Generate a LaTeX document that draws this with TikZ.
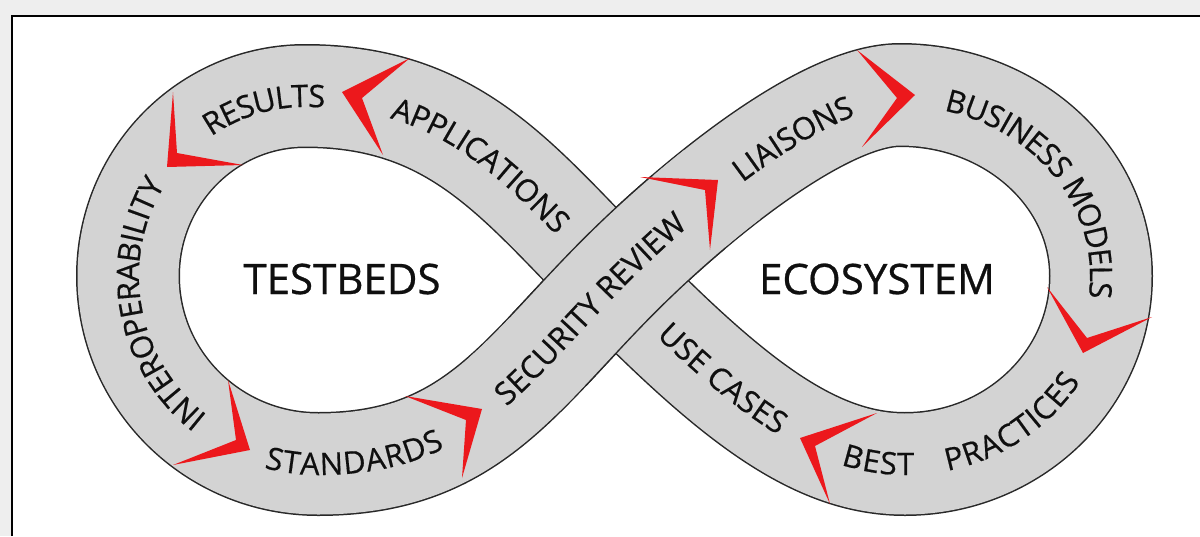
\documentclass[tikz,border=0pt]{standalone}
\usepackage{fontspec}
\setmainfont{Open Sans}
\newfontfamily\bandfamily{Open Sans}[FakeBold=0.5]
\newfontfamily\hubfamily{Open Sans}[FakeBold=0.7]
\usetikzlibrary{decorations.text}
\definecolor{bandgray}{RGB}{211,211,211}
\definecolor{edgegray}{RGB}{40,40,40}
\definecolor{chevred}{RGB}{236,24,28}
\definecolor{outergray}{RGB}{238,238,238}
\definecolor{inkblack}{RGB}{15,15,15}
\newcommand\bandfont{\bandfamily\fontsize{31}{36}\selectfont}
\newcommand\hubfont{\hubfamily\fontsize{42}{50}\selectfont}
\begin{document}
\begin{tikzpicture}[x=1pt,y=-1pt,
  bandedge/.style={draw=edgegray,line width=104pt,line join=round},
  bandfill/.style={draw=bandgray,line width=101pt,line join=round},
  chevron/.style={fill=chevred,draw=none},
  lbl/.style={decorate,decoration={text along path,raise=-11pt,text color=inkblack}},
  hub/.style={font=\hubfont,text=inkblack,inner sep=0pt},
]
\useasboundingbox (0,0) rectangle (1200,536);
\fill[outergray] (0,0) rectangle (1200,536);
\fill[white] (12,16) rectangle (1200,536);
\draw[black,line width=2.5pt] (12,536) -- (12,16) -- (1200,16);

% key points of the centre line
\coordinate (P0) at (615,280);
\coordinate (P4) at (305,96);
\coordinate (P5) at (128,276);
\coordinate (P6) at (318,464);
\coordinate (P1) at (900,95);
\coordinate (P2) at (1101,276);
\coordinate (P3) at (905,464);

% whole band
\path[bandfill,preaction={bandedge}]
  (P0) .. controls (517,181) and (455,96) .. (P4)
       .. controls (207,96) and (128,177) .. (P5)
       .. controls (128,380) and (213,464) .. (P6)
       .. controls (468,464) and (517,379) .. (P0)
       .. controls (685,209) and (820,95) .. (P1)
       .. controls (1011,95) and (1101,176) .. (P2)
       .. controls (1101,380) and (1013,464) .. (P3)
       .. controls (815,464) and (734,401) .. (P0) -- cycle;
% over-crossing part: edges in a small window, grey in a larger one
\begin{scope}
  \clip (510,175) rectangle (725,385);
  \path[bandedge]
    (P6) .. controls (468,464) and (517,379) .. (P0)
         .. controls (685,209) and (820,95) .. (P1);
\end{scope}
\begin{scope}
  \clip (470,150) rectangle (760,410);
  \path[bandfill]
    (P6) .. controls (468,464) and (517,379) .. (P0)
         .. controls (685,209) and (820,95) .. (P1);
\end{scope}

% chevrons
\fill[chevron] (410,58) -- (342,92) -- (383,155) -- (362,98) -- cycle;
\fill[chevron] (173,92) -- (167,167) -- (243,165) -- (177,153) -- cycle;
\fill[chevron] (228,380) -- (250,450) -- (173,465) -- (236,440) -- cycle;
\fill[chevron] (405,396) -- (482,409) -- (462,478) -- (466,420) -- cycle;
\fill[chevron] (640,177) -- (718,180) -- (710,250) -- (705,190) -- cycle;
\fill[chevron] (857,50) -- (915,95) -- (862,147) -- (897,98) -- cycle;
\fill[chevron] (1047,287) -- (1083,353) -- (1152,317) -- (1087,338) -- cycle;
\fill[chevron] (877,413) -- (800,438) -- (830,504) -- (815,446) -- cycle;

% band labels
\path[lbl,decoration={text={|\bandfont|RESULTS},text align={center,right indent=179pt}}]
  (P5) .. controls (128,177) and (207,96) .. (P4) .. controls (455,96) and (517,181) .. (P0);
\path[lbl,decoration={text={|\bandfont|APPLICATIONS},text align={center,left indent=16pt}}]
  (P4) .. controls (455,96) and (517,181) .. (P0);
\path[lbl,decoration={text={|\bandfont|INTEROPERABILITY},text align={center,right indent=52pt}}]
  (P6) .. controls (213,464) and (128,380) .. (P5) .. controls (128,177) and (207,96) .. (P4);
\path[lbl,decoration={text={|\bandfont|STANDARDS},text align={center,left indent=8pt}}]
  (P5) .. controls (128,380) and (213,464) .. (P6) .. controls (468,464) and (517,379) .. (P0);
\path[lbl,decoration={text={|\bandfont|SECURITY REVIEW},text align={center,right indent=58pt}}]
  (P6) .. controls (468,464) and (517,379) .. (P0) .. controls (685,209) and (820,95) .. (P1);
\path[lbl,decoration={text={|\bandfont|LIAISONS},text align={center,left indent=111pt}}]
  (P0) .. controls (685,209) and (820,95) .. (P1);
\path[lbl,decoration={text={|\bandfont|BUSINESS MODELS},text align={center,right indent=232pt}}]
  (P1) .. controls (1011,95) and (1101,176) .. (P2) .. controls (1101,380) and (1013,464) .. (P3);
\path[lbl,decoration={text={|\bandfont|USE CASES},text align={center,right indent=60pt}}]
  (P0) .. controls (734,401) and (815,464) .. (P3);
\path[lbl,decoration={text={|\bandfont|BEST},text align={left,left indent=290pt}}]
  (P0) .. controls (734,401) and (815,464) .. (P3) .. controls (1013,464) and (1101,380) .. (P2);
\path[lbl,decoration={text={|\bandfont|PRACTICES},text align={right,right indent=105pt}}]
  (P0) .. controls (734,401) and (815,464) .. (P3) .. controls (1013,464) and (1101,380) .. (P2);

% hub labels
\node[hub] (testbeds) at (342,279) {TESTBEDS};
\node[hub] (ecosystem) at (877,279) {ECOSYSTEM};
\end{tikzpicture}
\end{document}
